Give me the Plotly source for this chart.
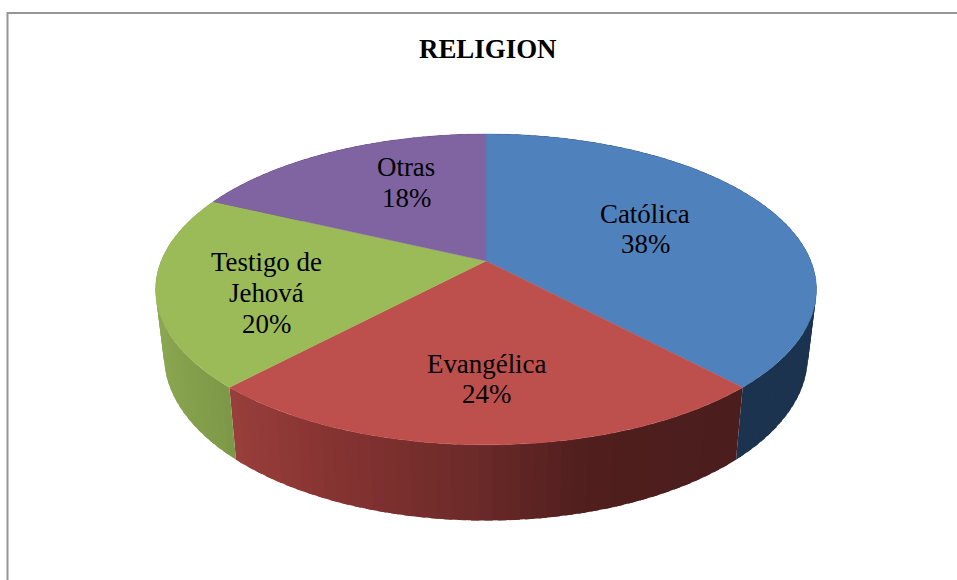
import math
import plotly.graph_objects as go

categories = ["Católica", "Evangélica", "Testigo de Jehová", "Otras"]
values = [38, 24, 20, 18]
top_colors = ["#4f81bd", "#bd4f4c", "#9bbb59", "#8064a2"]
label_lines = [["Católica"], ["Evangélica"], ["Testigo de", "Jehová"], ["Otras"]]
label_x = [645, 486.5, 266, 406]
label_y = [214, 364, 262, 167]
line_gap = [30, 30, 31, 31]

# Perspective disc: (screen centre x, centre y, half-width, half-depth, foreshortening)
TOP = (486.0, 261.0, 324.9, 150.3, -0.183)
BOT = (486.0, 326.0, 316.5, 159.0, -0.183)
FONT = "Liberation Serif, Times New Roman, serif"
FONT_SIZE = 26.9


def rim(disc, share):
    cx, cy, a, b, k = disc
    t = 2 * math.pi * share
    u, v = math.sin(t), -math.cos(t)
    d = 1 + k * v
    return cx + a * u / d, cy + b * v / d


def lerp_stops(stops, x):
    if x <= stops[0][0]:
        return stops[0][1]
    for (x0, c0), (x1, c1) in zip(stops, stops[1:]):
        if x <= x1:
            f = (x - x0) / (x1 - x0)
            return tuple(c0[i] + f * (c1[i] - c0[i]) for i in range(3))
    return stops[-1][1]


side_stops = [
    [(700, (28, 51, 79)), (820, (28, 51, 79))],
    [(232, (154, 63, 60)), (340, (134, 52, 50)), (486, (107, 42, 41)), (590, (80, 31, 30)), (740, (75, 30, 29))],
    [(160, (139, 167, 81)), (236, (125, 152, 72))],
    [(0, (70, 55, 90)), (957, (70, 55, 90))],
]

fig = go.Figure()
edges = [0.0]
for val in values:
    edges.append(edges[-1] + val / sum(values))

# side wall: overlapping strips painted in order, so no seams show
for i in range(len(values)):
    n = max(2, int(round((edges[i + 1] - edges[i]) * 180)))
    step = (edges[i + 1] - edges[i]) / n
    for j in range(n):
        s0 = edges[i] + step * j
        s1 = edges[i + 1] if j == n - 1 else s0 + step * 1.6
        p = [rim(TOP, s0), rim(TOP, s1), rim(BOT, s1), rim(BOT, s0), rim(TOP, s0)]
        xm = (p[0][0] + p[3][0]) / 2
        col = "rgb(%d,%d,%d)" % tuple(int(c) for c in lerp_stops(side_stops[i], xm))
        fig.add_trace(go.Scatter(x=[q[0] for q in p], y=[q[1] for q in p], mode="none",
                                 fill="toself", fillcolor=col,
                                 hoverinfo="skip", showlegend=False))

# top face
for i, name in enumerate(categories):
    n = 160
    pts = [rim(TOP, edges[i] + (edges[i + 1] - edges[i]) * j / n) for j in range(n + 1)]
    xs = [TOP[0]] + [q[0] for q in pts] + [TOP[0]]
    ys = [TOP[1]] + [q[1] for q in pts] + [TOP[1]]
    fig.add_trace(go.Scatter(x=xs, y=ys, mode="lines", fill="toself", fillcolor=top_colors[i],
                             line=dict(color=top_colors[i], width=0.4), name=name,
                             hoverinfo="name", showlegend=False))

ann = [dict(x=487.5, y=49, text="<b>RELIGION</b>", showarrow=False, xref="x", yref="y",
            font=dict(family=FONT, size=FONT_SIZE, color="#000"))]
for i, lines in enumerate(label_lines):
    rows = lines + ["%d%%" % values[i]]
    for r, row in enumerate(rows):
        ann.append(dict(x=label_x[i], y=label_y[i] + r * line_gap[i], text=row, showarrow=False,
                        xref="x", yref="y", font=dict(family=FONT, size=FONT_SIZE, color="#000")))

fig.update_layout(
    width=957, height=580, margin=dict(l=0, r=0, t=0, b=0), autosize=False,
    paper_bgcolor="white", plot_bgcolor="white",
    xaxis=dict(range=[0, 957], visible=False, fixedrange=True),
    yaxis=dict(range=[580, 0], visible=False, fixedrange=True),
    annotations=ann,
    shapes=[dict(type="path", path="M 7.5 590 L 7.5 13 L 967 13", xref="x", yref="y",
                 line=dict(color="#969696", width=2))],
)
fig.write_html("out.html", config={"displayModeBar": False},
               post_script="document.body.style.margin='0';document.documentElement.style.overflow='hidden';")
